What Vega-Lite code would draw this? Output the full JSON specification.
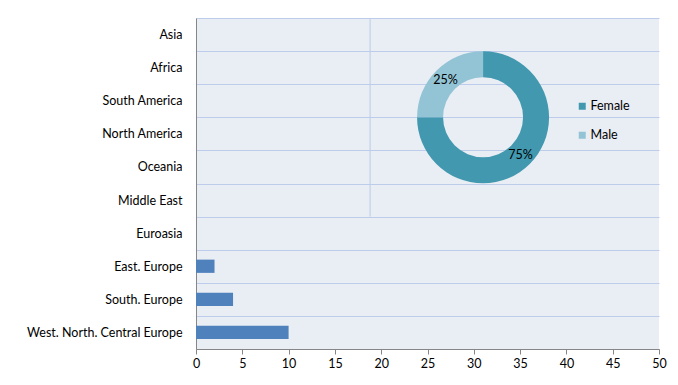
{
  "$schema": "https://vega.github.io/schema/vega-lite/v6.json",
  "width": 463,
  "height": 331,
  "autosize": {"type": "none"},
  "padding": {"left": 196, "top": 18, "right": 19, "bottom": 36},
  "background": "#ffffff",
  "datasets": {
    "regions": [
      {"region": "Asia", "count": 0},
      {"region": "Africa", "count": 0},
      {"region": "South America", "count": 0},
      {"region": "North America", "count": 0},
      {"region": "Oceania", "count": 0},
      {"region": "Middle East", "count": 0},
      {"region": "Euroasia", "count": 0},
      {"region": "East. Europe", "count": 2},
      {"region": "South. Europe", "count": 4},
      {"region": "West. North. Central Europe", "count": 10}
    ],
    "gender": [
      {"gender": "Female", "share": 75, "label": "75%", "ord": 1},
      {"gender": "Male", "share": 25, "label": "25%", "ord": 2}
    ]
  },
  "config": {
    "font": "Lato",
    "view": {"fill": "#E9EDF4", "stroke": null},
    "axis": {"labelFont": "Lato", "labelFontSize": 12.5, "labelColor": "#000000", "domainColor": "#868686", "tickColor": "#868686"},
    "legend": {"labelFont": "Lato", "labelFontSize": 12.5, "labelColor": "#000000"}
  },
  "layer": [
    {
      "data": {"name": "regions"},
      "mark": {"type": "bar", "color": "#4F81BD", "height": {"band": 0.4}},
      "encoding": {
        "y": {
          "field": "region",
          "type": "nominal",
          "sort": null,
          "scale": {"paddingInner": 0, "paddingOuter": 0},
          "axis": {"title": null, "ticks": false, "labelPadding": 14, "tickBand": "extent", "grid": true, "gridColor": "#BCCCEA", "gridWidth": 1, "gridOpacity": 1}
        },
        "x": {
          "field": "count",
          "type": "quantitative",
          "scale": {"domain": [0, 50], "nice": false},
          "axis": {"title": null, "grid": false, "values": [0, 5, 10, 15, 20, 25, 30, 35, 40, 45, 50], "tickSize": 5, "labelPadding": 3, "labelFlush": false}
        }
      }
    },
    {
      "data": {"values": [{}]},
      "mark": {"type": "rule", "color": "#BCCCEA", "strokeWidth": 1},
      "encoding": {
        "x": {"datum": 18.8, "type": "quantitative"},
        "y": {"datum": "Asia", "type": "nominal", "bandPosition": 0},
        "y2": {"datum": "Euroasia", "bandPosition": 0}
      }
    },
    {
      "data": {"name": "gender"},
      "mark": {"type": "arc", "radius": 66, "innerRadius": 40},
      "encoding": {
        "x": {"datum": 31, "type": "quantitative"},
        "y": {"datum": "North America", "type": "nominal", "bandPosition": 0},
        "theta": {"field": "share", "type": "quantitative", "stack": true},
        "order": {"field": "ord"},
        "color": {
          "field": "gender",
          "type": "nominal",
          "scale": {"domain": ["Female", "Male"], "range": ["#4298AF", "#93C4D5"]},
          "legend": {"title": null, "orient": "none", "legendX": 380, "legendY": 82, "symbolType": "square", "symbolSize": 49, "symbolStrokeWidth": 0, "rowPadding": 16, "labelOffset": 2, "padding": 0}
        }
      }
    },
    {
      "data": {"name": "gender"},
      "mark": {"type": "text", "radius": 53, "fontSize": 12.5, "color": "#000000", "font": "Lato"},
      "encoding": {
        "x": {"datum": 31, "type": "quantitative"},
        "y": {"datum": "North America", "type": "nominal", "bandPosition": 0},
        "theta": {"field": "share", "type": "quantitative", "stack": true},
        "order": {"field": "ord"},
        "text": {"field": "label"}
      }
    }
  ]
}
